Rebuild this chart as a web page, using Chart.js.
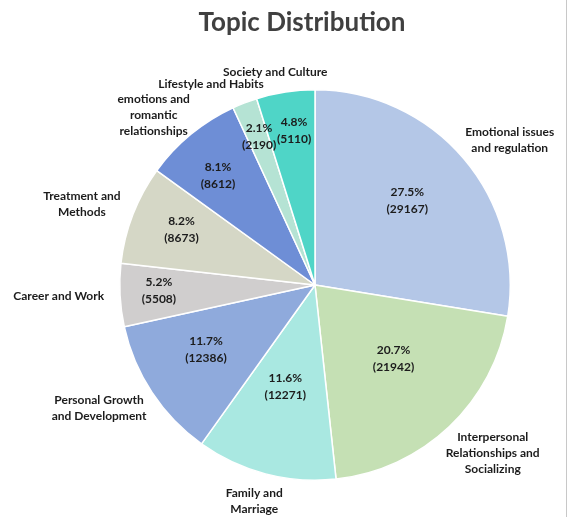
<!DOCTYPE html>
<html>
<head>
<meta charset="utf-8">
<script src="https://cdn.jsdelivr.net/npm/chart.js@4.4.0/dist/chart.umd.min.js"></script>
<style>
  html, body { margin: 0; padding: 0; background: #fff; }
  #wrap { width: 566px; height: 517px; border-right: 1px solid #c8c8c8; }
</style>
</head>
<body>
<div id="wrap"><canvas id="myChart" width="566" height="517"></canvas></div>
<script>
// categorias (uma linha por item do array)
const topicos = [
  ["Emotional issues", "and regulation"],
  ["Interpersonal", "Relationships and", "Socializing"],
  ["Family and", "Marriage"],
  ["Personal Growth", "and Development"],
  ["Career and Work"],
  ["Treatment and", "Methods"],
  ["emotions and", "romantic", "relationships"],
  ["Lifestyle and Habits"],
  ["Society and Culture"]
];
const contagens = [29167, 21942, 12271, 12386, 5508, 8673, 8612, 2190, 5110];
// percentuais como aparecem no grafico
const percentuais = ["27.5%", "20.7%", "11.6%", "11.7%", "5.2%", "8.2%", "8.1%", "2.1%", "4.8%"];
const cores = ["#B4C7E7", "#C5E0B4", "#A9E8E1", "#8FAADC", "#D0CECE", "#D5D7C6", "#6E8ED6", "#B5E3D4", "#4FD5C7"];
const titulo = "Topic Distribution";

// ajustes dos rotulos internos (fracao do raio, desvio do angulo em graus)
const raioInterno = [0.64, 0.55, 0.54, 0.65, 0.80, 0.74, 0.75, 0.81, 0.80];
const desvioInterno = [-2, -3.5, 1.7, 2.6, 0.8, 1.3, -2, 0.4, 1];
// pequenos empurroes nos rotulos externos [dx, dy]
const empurraoExterno = [[0, 0], [0, 0], [0, 0], [0, 0], [0, 0], [0, 0], [-4, 9], [-9, 0], [0, 0]];

const FONTE = "bold 12px Lato";
const LINHA_INT = 17;
const LINHA_EXT = 16;

const rotulosPlugin = {
  id: 'rotulos',
  afterDatasetsDraw(chart) {
    const ctx = chart.ctx;
    const meta = chart.getDatasetMeta(0);
    ctx.save();
    ctx.font = FONTE;
    ctx.fillStyle = "#1c1c1c";
    ctx.textAlign = "center";
    ctx.textBaseline = "middle";
    meta.data.forEach((arc, i) => {
      const p = arc.getProps(['x', 'y', 'startAngle', 'endAngle', 'outerRadius'], true);
      const mid = (p.startAngle + p.endAngle) / 2;
      // dentro
      const a = mid + desvioInterno[i] * Math.PI / 180;
      const rr = p.outerRadius * raioInterno[i];
      const cx = p.x + Math.cos(a) * rr;
      const cy = p.y + Math.sin(a) * rr;
      ctx.fillText(percentuais[i], cx, cy - LINHA_INT / 2);
      ctx.fillText("(" + contagens[i] + ")", cx, cy + LINHA_INT / 2);
      // fora
      const linhas = topicos[i];
      const w = Math.max(...linhas.map(l => ctx.measureText(l).width));
      const h = linhas.length * LINHA_EXT;
      const s = Math.cos(mid), c = Math.sin(mid);
      const gx = 16, gy = 12;
      const ox = p.x + s * (p.outerRadius + gx) + s * w / 2 + empurraoExterno[i][0];
      const oy = p.y + c * (p.outerRadius + gy) + c * h / 2 + empurraoExterno[i][1];
      linhas.forEach((l, k) => {
        ctx.fillText(l, ox, oy - h / 2 + LINHA_EXT * (k + 0.5));
      });
    });
    // titulo
    ctx.font = "bold 26px Lato";
    ctx.fillStyle = "#404040";
    ctx.fillText(titulo, 302, 23);
    ctx.restore();
  }
};

var ctx = document.getElementById("myChart").getContext('2d');
var myChart = new Chart(ctx, {
  type: 'pie',
  data: {
    labels: topicos.map(t => t.join(" ")),
    datasets: [{
      data: contagens,
      backgroundColor: cores,
      borderColor: "#ffffff",
      borderWidth: 1.5
    }]
  },
  options: {
    responsive: false,
    animation: false,
    layout: { padding: { left: 119, right: 55, top: 89, bottom: 36 } },
    plugins: {
      legend: { display: false },
      tooltip: { enabled: false },
      title: { display: false }
    }
  },
  plugins: [rotulosPlugin]
});
</script>
</body>
</html>
